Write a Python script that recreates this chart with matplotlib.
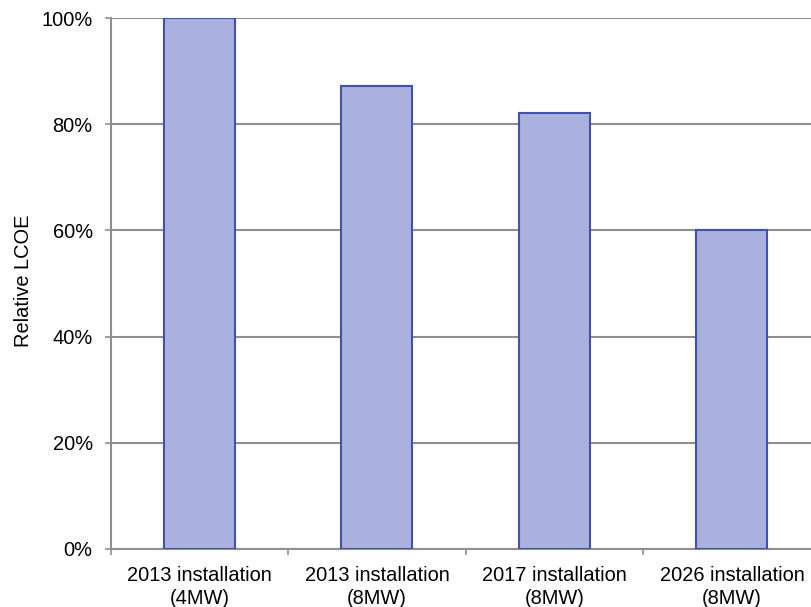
import matplotlib
matplotlib.use("Agg")
import matplotlib.pyplot as plt
from matplotlib.ticker import FixedLocator, FuncFormatter

plt.rcParams['font.family'] = ['Liberation Sans', 'DejaVu Sans']

categories = ["2013 installation\n(4MW)", "2013 installation\n(8MW)",
              "2017 installation\n(8MW)", "2026 installation\n(8MW)"]
relative_lcoe = [100.0, 87.2, 82.1, 60.0]
y_ticks = [0, 20, 40, 60, 80, 100]

FS = 14.4
GRAY = "#8f8f8f"

fig = plt.figure(figsize=(8.11, 6.07), dpi=100)
ax = fig.add_axes([110.7 / 811, 58 / 607, 710 / 811, 531 / 607])

centers = [i + 0.5 for i in range(len(categories))]
ax.bar(centers, relative_lcoe, width=0.4, color="#aab1de",
       edgecolor="#4151ad", linewidth=1.5, zorder=3)

ax.set_xlim(0, len(categories))
ax.set_ylim(0, 100)

ax.yaxis.set_major_locator(FixedLocator(y_ticks))
ax.yaxis.set_major_formatter(FuncFormatter(lambda v, p: f"{v:.0f}%"))
ax.grid(axis="y", color=GRAY, linewidth=1.5, zorder=0)

ax.xaxis.set_major_locator(FixedLocator(range(len(categories) + 1)))
ax.xaxis.set_major_formatter(FuncFormatter(lambda v, p: ""))
ax.xaxis.set_minor_locator(FixedLocator(centers))

ax.tick_params(axis="y", which="major", length=4, width=1.2, color=GRAY,
               pad=9, labelsize=FS)
ax.tick_params(axis="x", which="major", length=4, width=1.2, color=GRAY)
ax.tick_params(axis="x", which="minor", length=0, pad=12.5, labelsize=FS)
ax.set_xticklabels(categories, minor=True, linespacing=1.22)

for side in ("top", "right"):
    ax.spines[side].set_visible(False)
for side in ("left", "bottom"):
    ax.spines[side].set_color(GRAY)
    ax.spines[side].set_linewidth(1.5)

fig.text(24 / 811, 1 - 281 / 607, "Relative LCOE", rotation=90,
         ha="center", va="center", fontsize=FS)

fig.savefig("out.png", dpi=100)
